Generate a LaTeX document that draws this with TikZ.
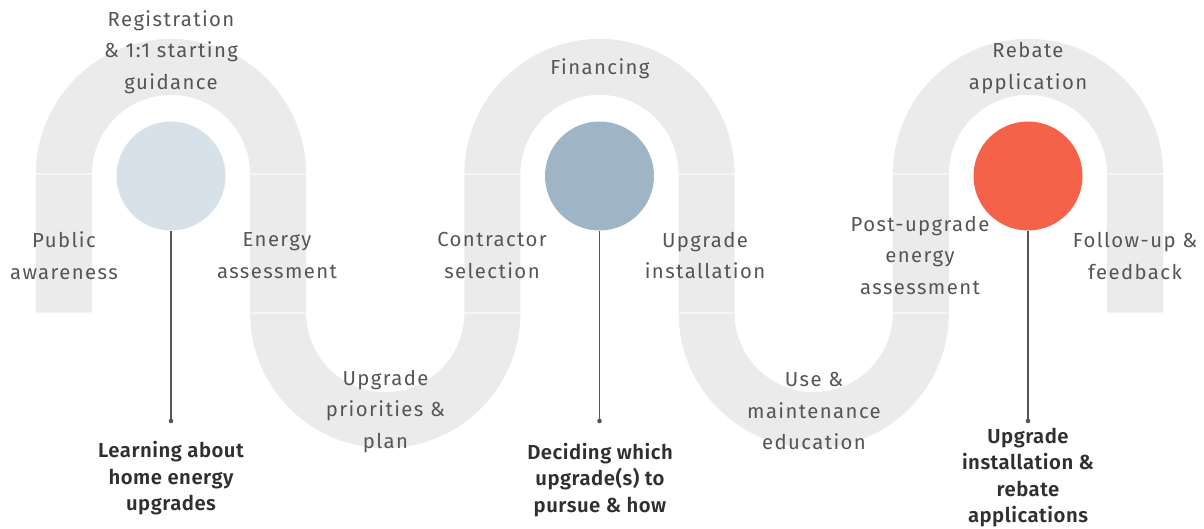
\documentclass[tikz,border=0pt]{standalone}
\usepackage{fontspec}
\setmainfont{Fira Sans}
\newfontfamily\stepfont{Fira Sans}[LetterSpace=7]
\newfontfamily\phasefont{Fira Sans SemiBold}[LetterSpace=2.5]
\definecolor{track}{HTML}{EBEBEB}
\definecolor{phaseA}{HTML}{D7E1E9}
\definecolor{phaseB}{HTML}{9DB5C6}
\definecolor{phaseC}{HTML}{F6614A}
\definecolor{steptext}{HTML}{555555}
\definecolor{phasetext}{HTML}{303030}
\definecolor{stem}{HTML}{555555}
\begin{document}
\begin{tikzpicture}[x=1pt,y=-1pt,
  steplbl/.style={align=center,inner sep=0pt,text=steptext,
    font=\stepfont\fontsize{20.3}{31.5}\selectfont},
  phaselbl/.style={align=center,inner sep=0pt,text=phasetext,
    font=\phasefont\fontsize{20.3}{26.5}\selectfont},
  phasedot/.style={circle,inner sep=0pt,minimum size=109pt},
  stemline/.style={draw=stem,line width=1.3pt},
  seam/.style={draw=white,opacity=0.55,line width=1.4pt}]
\useasboundingbox (0,0) rectangle (1204,529);

% serpentine track
\draw[track,line width=56pt]
  (63.875,313) -- (63.875,174)
  arc[start angle=180,end angle=360,radius=107.125] -- (278.125,313)
  arc[start angle=180,end angle=0,radius=107.125] -- (492.375,174)
  arc[start angle=180,end angle=360,radius=107.125] -- (706.625,313)
  arc[start angle=180,end angle=0,radius=107.125] -- (920.875,174)
  arc[start angle=180,end angle=360,radius=107.125] -- (1135.125,313);

% seams between track segments
\foreach \lx in {63.875,278.125,492.375,706.625,920.875,1135.125}{
  \draw[seam] (\lx-28,174) -- (\lx+28,174);
  \draw[seam] (\lx-28,313) -- (\lx+28,313);
}

% phase markers
\node[phasedot,fill=phaseA] (c1) at (171,176) {};
\node[phasedot,fill=phaseB] (c2) at (599.5,176) {};
\node[phasedot,fill=phaseC] (c3) at (1028,176) {};

\coordinate (d1) at (171,421);
\coordinate (d2) at (599.5,421);
\coordinate (d3) at (1028,421);
\draw[stemline] (c1.south) -- (d1);
\draw[stemline] (c2.south) -- (d2);
\draw[stemline] (c3.south) -- (d3);
\fill[stem] (d1) circle (2.3);
\fill[stem] (d2) circle (2.3);
\fill[stem] (d3) circle (2.3);

% step labels along the track
\node[steplbl] (s1) at (64,255.5) {Public\\awareness};
\node[steplbl] (s2) at (171,52) {Registration\\\& 1:1 starting\\guidance};
\node[steplbl] (s3) at (277,255.5) {Energy\\assessment};
\node[steplbl] (s4) at (385.5,411.5) {Upgrade\\priorities \&\\plan};
\node[steplbl] (s5) at (492,255.5) {Contractor\\selection};
\node[steplbl] (s6) at (600,69) {Financing};
\node[steplbl] (s7) at (705,255.5) {Upgrade\\installation};
\node[steplbl] (s8) at (814,411.5) {Use \&\\maintenance\\education};
\node[steplbl] (s9) at (920,255.5) {Post-upgrade\\energy\\assessment};
\node[steplbl] (s10) at (1028,68) {Rebate\\application};
\node[steplbl] (s11) at (1135,256) {Follow-up \&\\feedback};

% phase labels
\node[phaselbl] (p1) at (171,478.5) {Learning about\\home energy\\upgrades};
\node[phaselbl] (p2) at (600,480) {Deciding which\\upgrade(s) to\\pursue \& how};
\node[phaselbl] (p3) at (1028,477.5) {Upgrade\\installation \&\\rebate\\applications};
\end{tikzpicture}
\end{document}
